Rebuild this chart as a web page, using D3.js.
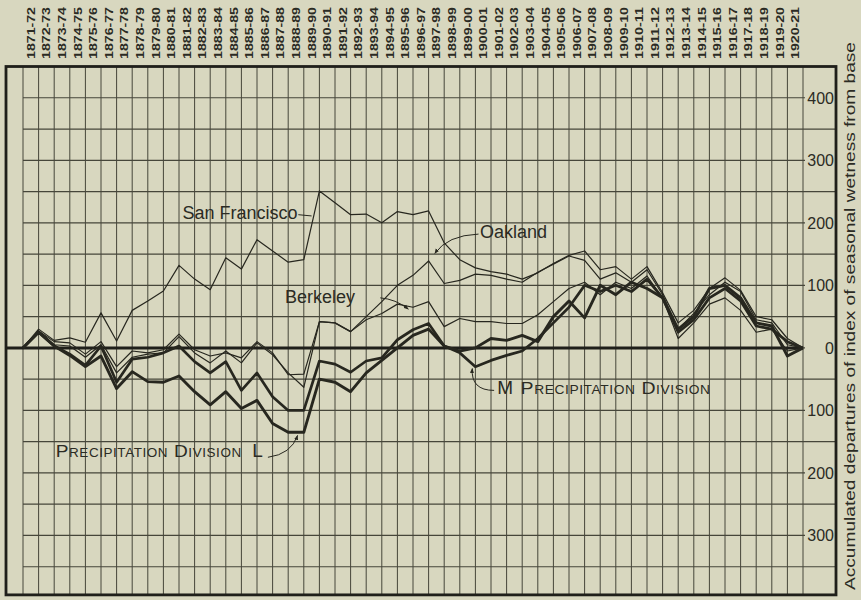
<!DOCTYPE html>
<html>
<head>
  <meta charset="UTF-8">
  <script src="https://d3js.org/d3.v7.min.js"></script>
<style>
  body { margin: 0; background: #d8d7bf; }
  text { font-family: "Liberation Sans", Arial, sans-serif; fill: #2b2b24; }
</style>
</head>
<body>
<div id="my_dataviz"></div>
</body>
</html>

<script>

// seasons along the top, one column each
var seasons = ["1871-72","1872-73","1873-74","1874-75","1875-76","1876-77","1877-78","1878-79","1879-80","1880-81",
  "1881-82","1882-83","1883-84","1884-85","1885-86","1886-87","1887-88","1888-89","1889-90","1890-91",
  "1891-92","1892-93","1893-94","1894-95","1895-96","1896-97","1897-98","1898-99","1899-00","1900-01",
  "1901-02","1902-03","1903-04","1904-05","1905-06","1906-07","1907-08","1908-09","1909-10","1910-11",
  "1911-12","1912-13","1913-14","1914-15","1915-16","1916-17","1917-18","1918-19","1919-20","1920-21"];

// accumulated departures, first value is the starting base (0), then end of each season
var sanFrancisco = [0,30,12,16,9,56,11,60,75,91,132,110,93,144,126,173,155,137,141,251,232,213,214,200,218,213,219,168,141,128,122,118,110,120,135,148,155,125,130,110,130,88,40,60,95,112,92,50,45,15,0];
var oakland = [0,27,10,8,-10,10,-30,-5,-8,-3,22,-3,-13,-8,-16,10,-8,-43,-42,42,40,26,50,74,100,116,139,103,108,118,116,110,105,121,134,147,140,110,120,105,125,85,30,55,85,105,90,45,40,5,0];
var berkeley = [0,27,5,3,-15,5,-40,-15,-10,-8,18,-8,-24,-5,-24,8,-11,-40,-63,42,40,26,45,55,70,65,74,34,47,42,42,39,39,53,74,95,105,85,105,95,115,80,15,40,70,80,60,25,30,-5,0];
var divisionM = [0,25,3,-10,-28,3,-55,-18,-15,-8,3,-22,-40,-22,-68,-40,-78,-100,-100,-21,-26,-39,-21,-16,13,29,39,3,-8,-30,-20,-12,-5,15,40,65,100,90,100,90,110,80,25,45,80,95,75,35,30,10,0];
var divisionL = [0,25,3,-12,-30,-13,-65,-38,-54,-55,-45,-70,-91,-70,-97,-84,-121,-135,-135,-50,-55,-70,-40,-20,0,20,30,3,-5,0,15,12,20,10,50,75,48,100,85,105,95,80,30,50,95,100,80,40,35,-13,0];

// right hand scale labels (printed without sign)
var yTickValues = [400,300,200,100,0,-100,-200,-300];

var width = 861, height = 600;
var ink = "#27271f";

var svg = d3.select("#my_dataviz")
  .append("svg")
    .attr("width", width)
    .attr("height", height);

svg.append("rect").attr("width", width).attr("height", height).attr("fill", "#d8d7bf");

var x = d3.scaleLinear().domain([0, 50]).range([23, 803]);
var y = d3.scaleLinear().domain([-400, 450]).range([598, 66.5]);

var frameLeft = 6, frameRight = 836, frameTop = y(450), frameBottom = y(-395);

// vertical grid
svg.append("g")
  .selectAll("line")
  .data(d3.range(0, 51))
  .enter()
  .append("line")
    .attr("x1", function(d) { return x(d); })
    .attr("x2", function(d) { return x(d); })
    .attr("y1", frameTop)
    .attr("y2", frameBottom)
    .attr("stroke", "#46463a")
    .attr("stroke-width", 1);

// horizontal grid every 50
var hLevels = d3.range(-350, 450, 50);
svg.append("g")
  .selectAll("line")
  .data(hLevels)
  .enter()
  .append("line")
    .attr("x1", x(0))
    .attr("x2", function(d) { return d % 100 == 0 ? x(50) + 2 : frameRight; })
    .attr("y1", function(d) { return y(d); })
    .attr("y2", function(d) { return y(d); })
    .attr("stroke", "#46463a")
    .attr("stroke-width", 1.2);

// zero line
svg.append("line")
  .attr("x1", frameLeft).attr("x2", x(50))
  .attr("y1", y(0)).attr("y2", y(0))
  .attr("stroke", "#1f1f1a")
  .attr("stroke-width", 3);

// frame
svg.append("rect")
  .attr("x", frameLeft).attr("y", frameTop)
  .attr("width", frameRight - frameLeft)
  .attr("height", frameBottom - frameTop)
  .attr("fill", "none")
  .attr("stroke", "#1f1f1a")
  .attr("stroke-width", 2.8);

// season labels on top
svg.append("g")
  .selectAll("text")
  .data(seasons)
  .enter()
  .append("text")
    .attr("transform", function(d, i) { return "translate(" + (x(i + 0.5) + 4) + ",59)rotate(-90)"; })
    .attr("textLength", 52)
    .attr("lengthAdjust", "spacingAndGlyphs")
    .style("font-size", "11.5px")
    .style("font-weight", "bold")
    .text(function(d) { return d; });

// right scale labels
svg.append("g")
  .selectAll("text")
  .data(yTickValues)
  .enter()
  .append("text")
    .attr("x", frameRight - 2)
    .attr("y", function(d) { return y(d) + 6; })
    .attr("text-anchor", "end")
    .style("font-size", "16px")
    .text(function(d) { return Math.abs(d); });

// axis title
svg.append("text")
  .attr("transform", "translate(855,590)rotate(-90)")
  .attr("textLength", 548)
  .attr("lengthAdjust", "spacingAndGlyphs")
  .style("font-size", "14.5px")
  .text("Accumulated departures of index of seasonal wetness from base");

// series lines
var series = [
  { name: "San Francisco", values: sanFrancisco, w: 1.2 },
  { name: "Oakland", values: oakland, w: 1.2 },
  { name: "Berkeley", values: berkeley, w: 1.2 },
  { name: "Division M", values: divisionM, w: 2.7 },
  { name: "Division L", values: divisionL, w: 2.9 }
];

var line = d3.line()
  .x(function(d, i) { return x(i); })
  .y(function(d) { return y(d); });

svg.append("g")
  .selectAll("path")
  .data(series)
  .enter()
  .append("path")
    .attr("d", function(d) { return line(d.values); })
    .attr("fill", "none")
    .attr("stroke", ink)
    .attr("stroke-width", function(d) { return d.w; })
    .attr("stroke-linejoin", "round");

// labels with leaders
svg.append("defs").append("marker")
  .attr("id", "arr")
  .attr("viewBox", "0 0 10 10")
  .attr("refX", 9).attr("refY", 5)
  .attr("markerWidth", 5).attr("markerHeight", 5)
  .attr("orient", "auto")
  .append("path")
    .attr("d", "M0,1L10,5L0,9z")
    .attr("fill", ink);

function leader(x1, y1, cx, cy, x2, y2) {
  svg.append("path")
    .attr("d", "M" + x1 + "," + y1 + "Q" + cx + "," + cy + " " + x2 + "," + y2)
    .attr("fill", "none")
    .attr("stroke", ink)
    .attr("stroke-width", 1)
    .attr("marker-end", "url(#arr)");
}

function smallCaps(xPos, yPos, len) {
  svg.append("text")
    .attr("x", xPos).attr("y", yPos)
    .attr("textLength", len)
    .attr("lengthAdjust", "spacingAndGlyphs")
    .style("font-size", "17px")
    .style("font-variant", "small-caps")
    .style("letter-spacing", "0.5px")
    .text("Precipitation Division");
}

svg.append("text")
  .attr("x", x(17.6)).attr("y", y(206))
  .attr("text-anchor", "end")
  .style("font-size", "18px")
  .text("San Francisco");
svg.append("line")
  .attr("x1", x(17.65)).attr("x2", x(18.5))
  .attr("y1", y(213)).attr("y2", y(211))
  .attr("stroke", ink).attr("stroke-width", 1);

svg.append("text")
  .attr("x", x(29.3)).attr("y", y(175))
  .style("font-size", "18px")
  .text("Oakland");
leader(x(29.2), y(182), x(27.2), y(180), x(26.4), y(151));

svg.append("text")
  .attr("x", x(16.8)).attr("y", y(71))
  .style("font-size", "18px")
  .text("Berkeley");
leader(x(22.9), y(80), x(23.9), y(78), x(24.7), y(62));

svg.append("text")
  .attr("x", x(30.4)).attr("y", y(-74))
  .style("font-size", "19px")
  .text("M");
smallCaps(x(31.9), y(-74), 190);
leader(x(30.2), y(-68), x(28.7), y(-68), x(28.8), y(-33));

smallCaps(x(2.1), y(-175), 186);
svg.append("text")
  .attr("x", x(14.7)).attr("y", y(-174))
  .style("font-size", "19px")
  .text("L");
leader(x(15.7), y(-175), x(17.2), y(-170), x(17.6), y(-140));

</script>
